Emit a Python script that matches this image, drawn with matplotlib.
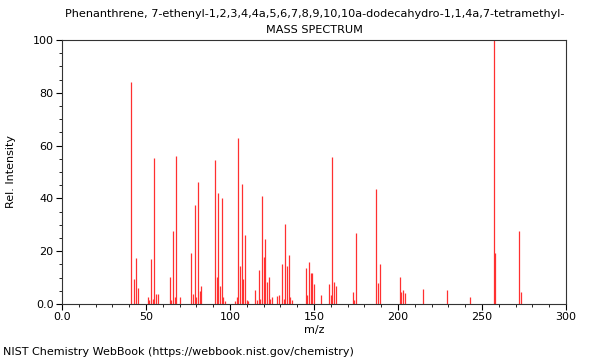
import matplotlib
matplotlib.use("Agg")
import matplotlib.pyplot as plt
from matplotlib.ticker import MultipleLocator

mz = [41, 43, 44, 45, 51, 52, 53, 54, 55, 56, 57, 64, 65, 66, 67, 68, 70,
      77, 78, 79, 80, 81, 82, 83, 91, 92, 93, 94, 95, 96, 97,
      103, 104, 105, 106, 107, 108, 109, 110, 111,
      115, 116, 117, 118, 119, 120, 121, 122, 123, 124, 125,
      128, 129, 131, 132, 133, 134, 135, 136, 137,
      145, 146, 147, 148, 149, 150, 154, 159, 160, 161, 162, 163,
      173, 174, 175, 187, 188, 189, 201, 202, 203, 204, 215, 229,
      243, 257, 258, 272, 273]
intensity = [84.2, 9.5, 17.4, 6.2, 2.8, 1.5, 16.9, 1.9, 55.2, 3.9, 3.9,
             10.2, 1.5, 27.5, 2.8, 56.2, 2.8,
             19.2, 3.9, 37.5, 2.8, 46.2, 4.9, 6.8, 54.5, 10.2, 41.9, 6.8, 40.2, 2.8, 1.3,
             1.0, 2.8, 62.9, 14.5, 45.3, 9.4, 26.1, 1.7, 1.2,
             5.3, 1.5, 12.9, 1.9, 40.9, 17.8, 24.5, 8.3, 10.2, 1.9, 2.8,
             3.1, 3.4, 15.2, 1.9, 30.3, 14.4, 18.4, 2.8, 1.7,
             13.5, 3.4, 15.8, 11.9, 11.9, 7.6, 3.4, 7.6, 3.4, 55.8, 8.3, 6.8,
             4.5, 1.6, 26.8, 43.6, 7.8, 15.0, 10.2, 4.4, 5.3, 4.0, 5.7, 5.4,
             2.8, 100.0, 19.4, 27.8, 4.4]

title_line1 = "Phenanthrene, 7-ethenyl-1,2,3,4,4a,5,6,7,8,9,10,10a-dodecahydro-1,1,4a,7-tetramethyl-"
title_line2 = "MASS SPECTRUM"
x_label = "m/z"
y_label = "Rel. Intensity"
footer = "NIST Chemistry WebBook (https://webbook.nist.gov/chemistry)"

fig = plt.figure(figsize=(6, 3.6), dpi=100)
ax = fig.add_axes([62/600, 1-304/360, (566-62)/600, (304-40)/360])
ax.vlines(mz, 0, intensity, colors="#ff3030", linewidth=0.9)
ax.set_xlim(0, 300)
ax.set_ylim(0, 100)
ax.xaxis.set_major_locator(MultipleLocator(50))
ax.xaxis.set_minor_locator(MultipleLocator(10))
ax.yaxis.set_major_locator(MultipleLocator(20))
ax.yaxis.set_minor_locator(MultipleLocator(5))
ax.set_xticks([0, 50, 100, 150, 200, 250, 300])
ax.set_xticklabels(["0.0", "50", "100", "150", "200", "250", "300"])
ax.set_yticks([0, 20, 40, 60, 80, 100])
ax.set_yticklabels(["0.0", "20", "40", "60", "80", "100"])
ax.tick_params(axis="both", which="major", labelsize=8, length=4, width=0.8, pad=2)
ax.tick_params(axis="both", which="minor", length=2.5, width=0.6)
for s in ax.spines.values():
    s.set_linewidth(0.8)
    s.set_color("#333333")
ax.set_xlabel(x_label, fontsize=8, labelpad=2)
ax.set_ylabel(y_label, fontsize=8, labelpad=12)
fig.text(0.524, 1-14/360, title_line1, ha="center", va="center", fontsize=8.1)
fig.text(0.524, 1-30/360, title_line2, ha="center", va="center", fontsize=8.1)
fig.text(3/600, 1-352/360, footer, ha="left", va="center", fontsize=8)
fig.savefig("out.png", dpi=100)
